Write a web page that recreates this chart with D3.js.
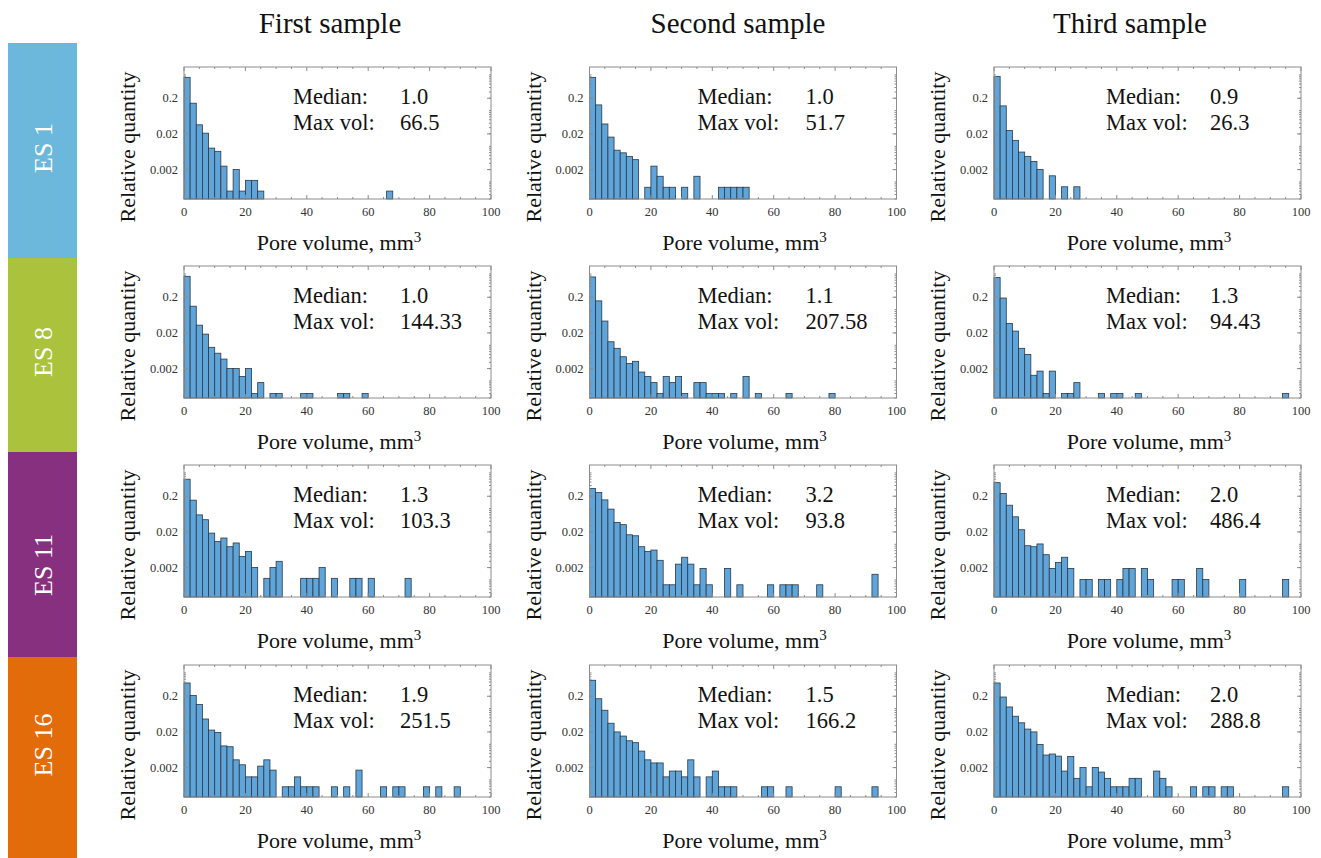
<!DOCTYPE html>
<html>
<head>
<meta charset="utf-8">
<script src="https://cdn.jsdelivr.net/npm/d3@7"></script>
<style>
  html, body { margin: 0; padding: 0; background: #ffffff; }
  svg { display: block; }
  text { font-family: "Liberation Serif", "Times New Roman", serif; }
</style>
</head>
<body>
<svg id="chart" width="1321" height="858" font-family="Liberation Serif, Times New Roman, serif"></svg>
<script>
// ---------------- DATA ----------------
const rowLabels = ["ES 1", "ES 8", "ES 11", "ES 16"];
const colTitles = ["First sample", "Second sample", "Third sample"];
const medians = [["1.0", "1.0", "0.9"], ["1.0", "1.1", "1.3"], ["1.3", "3.2", "2.0"], ["1.9", "1.5", "2.0"]];
const maxVols = [["66.5", "51.7", "26.3"], ["144.33", "207.58", "94.43"], ["103.3", "93.8", "486.4"], ["251.5", "166.2", "288.8"]];
const xTicks = [0, 20, 40, 60, 80, 100];
const yTicks = [0.2, 0.02, 0.002];
const yTickLabels = ["0.2", "0.02", "0.002"];
const binWidth = 2; // mm^3 per bin

// relative quantity per 2 mm^3 bin (bin i covers [2i, 2i+2))
const es1First = [0.77, 0.145, 0.036, 0.021, 0.008, 0.0065, 0.0025, 0.0005, 0.002, 0.0005,
  0.001, 0.001, 0.0005, 0, 0, 0, 0, 0, 0, 0,
  0, 0, 0, 0, 0, 0, 0, 0, 0, 0,
  0, 0, 0, 0.0005];
const es1Second = [0.77, 0.13, 0.038, 0.0163, 0.007, 0.0059, 0.0047, 0.0038, 0, 0.00064,
  0.0025, 0.0013, 0.00064, 0.00064, 0, 0.00064, 0, 0.0013, 0, 0,
  0, 0.00064, 0.00064, 0.00064, 0.00064, 0.00064];
const es1Third = [0.82, 0.122, 0.025, 0.0132, 0.0062, 0.0047, 0.0034, 0.002, 0, 0.00134,
  0, 0.00066, 0, 0.00066];
const es8First = [0.77, 0.112, 0.033, 0.0185, 0.0079, 0.0054, 0.0037, 0.002, 0.002, 0.0012,
  0.002, 0.0004, 0.00081, 0, 0.0004, 0.0004, 0, 0, 0, 0.0004,
  0.0004, 0, 0, 0, 0, 0.0004, 0.0004, 0, 0, 0.0004];
const es8Second = [0.74, 0.158, 0.043, 0.0113, 0.0074, 0.0043, 0.0028, 0.0032, 0.0016, 0.0012,
  0.00081, 0.0004, 0.0012, 0.00081, 0.0012, 0.0004, 0, 0.00081, 0.00081, 0.0004,
  0.0004, 0.0004, 0, 0.0004, 0, 0.0012, 0, 0.0004, 0, 0,
  0, 0, 0.0004, 0, 0, 0, 0, 0, 0, 0.0004];
const es8Third = [0.71, 0.19, 0.037, 0.0225, 0.0074, 0.005, 0.0013, 0.0017, 0.0004, 0.0017,
  0, 0.0004, 0.0004, 0.00081, 0, 0, 0, 0.0004, 0, 0.0004,
  0.0004, 0, 0, 0.0004, 0, 0, 0, 0, 0, 0,
  0, 0, 0, 0, 0, 0, 0, 0, 0, 0,
  0, 0, 0, 0, 0, 0, 0, 0.0004];
const es11First = [0.6, 0.155, 0.06, 0.044, 0.0185, 0.0107, 0.0135, 0.0077, 0.0098, 0.0041,
  0.0057, 0.002, 0, 0.001, 0.002, 0.003, 0, 0, 0, 0.001,
  0.001, 0.001, 0.002, 0, 0.001, 0, 0, 0.001, 0.001, 0,
  0.001, 0, 0, 0, 0, 0, 0.001];
const es11Second = [0.327, 0.254, 0.158, 0.087, 0.037, 0.032, 0.0166, 0.0156, 0.0077, 0.0057,
  0.0062, 0.0032, 0.00066, 0.00066, 0.0025, 0.0039, 0.0025, 0.00066, 0.0019, 0.00066,
  0, 0, 0.0019, 0, 0.00066, 0, 0, 0, 0, 0.00066,
  0, 0.00066, 0.00066, 0.00066, 0, 0, 0, 0.00066, 0, 0,
  0, 0, 0, 0, 0, 0, 0.0013];
const es11Third = [0.48, 0.24, 0.112, 0.053, 0.023, 0.0082, 0.0077, 0.0092, 0.0046, 0.0019,
  0.0028, 0.0039, 0.0019, 0, 0.00093, 0.00093, 0, 0.00093, 0.00093, 0,
  0.00093, 0.0019, 0.0019, 0, 0.0019, 0.00093, 0, 0, 0, 0.00093,
  0.00093, 0, 0, 0.0019, 0.00093, 0, 0, 0, 0, 0,
  0.00093, 0, 0, 0, 0, 0, 0, 0.00093];
const es16First = [0.47, 0.21, 0.117, 0.046, 0.0225, 0.0193, 0.0081, 0.0077, 0.0033, 0.0024,
  0.0011, 0.0011, 0.0022, 0.0033, 0.0017, 0, 0.00058, 0.00058, 0.0011, 0.00058,
  0.00058, 0.00058, 0, 0, 0.00058, 0, 0.00058, 0, 0.0017, 0,
  0, 0, 0.00058, 0, 0.00058, 0.00058, 0, 0, 0, 0.00058,
  0, 0.00058, 0, 0, 0.00058];
const es16Second = [0.56, 0.17, 0.081, 0.035, 0.02, 0.0153, 0.0113, 0.01, 0.0058, 0.0033,
  0.0027, 0.0027, 0.0011, 0.0016, 0.0016, 0.0011, 0.0033, 0.0011, 0, 0.0011,
  0.0016, 0.00058, 0.00058, 0.00058, 0, 0, 0, 0, 0.00058, 0.00058,
  0, 0, 0.00058, 0, 0, 0, 0, 0, 0, 0,
  0.00058, 0, 0, 0, 0, 0, 0.00058];
const es16Third = [0.47, 0.19, 0.10, 0.055, 0.036, 0.024, 0.020, 0.0089, 0.0045, 0.0048,
  0.0042, 0.0016, 0.0041, 0.001, 0.002, 0.00058, 0.002, 0.0015, 0.001, 0.00058,
  0.00058, 0.00058, 0.001, 0.001, 0, 0, 0.0016, 0.001, 0.00058, 0,
  0, 0, 0.00058, 0, 0.00058, 0.00058, 0, 0.00058, 0.00058, 0,
  0, 0, 0, 0, 0, 0, 0, 0.00058];

const series = [
  [es1First, es1Second, es1Third],
  [es8First, es8Second, es8Third],
  [es11First, es11Second, es11Third],
  [es16First, es16Second, es16Third]
];

// ---------------- LAYOUT ----------------
const FONT = "Liberation Serif, Times New Roman, serif";
const svg = d3.select("#chart");
const plotLeft = [184, 589.5, 994];
const plotTop = [67, 266, 465, 665];
const W = 307, H = 132;
const bandColors = ["#6cb8dc", "#aac23c", "#883080", "#e36c0a"];
const bandY = [43, 258, 452, 657, 858];
const bandLabelY = [148, 352, 565, 745];
const titleX = [330, 738, 1130];
const medianLabelDx = [109, 108, 112];

const x = d3.scaleLinear().domain([0, 100]).range([0, W]);
const y = d3.scaleLog().domain([0.0003, 1.5]).range([H, 0]);

// column titles
svg.selectAll("text.coltitle").data(colTitles).enter().append("text")
  .attr("class", "coltitle").attr("font-family", FONT)
  .attr("x", (d, i) => titleX[i]).attr("y", 33)
  .attr("text-anchor", "middle").attr("font-size", 29).attr("fill", "#111")
  .text(d => d);

// row colour bands
rowLabels.forEach((lab, r) => {
  svg.append("rect").attr("x", 8).attr("y", bandY[r]).attr("width", 69)
    .attr("height", bandY[r + 1] - bandY[r]).attr("fill", bandColors[r]);
  svg.append("text").attr("font-family", FONT)
    .attr("transform", `translate(43,${bandLabelY[r]}) rotate(-90)`)
    .attr("text-anchor", "middle").attr("dominant-baseline", "central")
    .attr("font-size", 26).attr("fill", "#ffffff").text(lab);
});

const minorY = [];
[0.0001, 0.001, 0.01, 0.1, 1].forEach(p => { for (let k = 2; k <= 9; k++) minorY.push(p * k); });
const minorYIn = minorY.filter(v => v > 0.0003 && v < 1.5);
const minorX = d3.range(0, 101, 5).filter(v => v % 20 !== 0);

for (let r = 0; r < 4; r++) {
  for (let c = 0; c < 3; c++) {
    const g = svg.append("g").attr("transform", `translate(${plotLeft[c]},${plotTop[r]})`)
      .attr("font-family", FONT);
    const data = series[r][c].map((v, i) => ({ x0: i * binWidth, v: v })).filter(d => d.v > 0);

    // bars
    g.selectAll("rect.bar").data(data).enter().append("rect")
      .attr("class", "bar")
      .attr("x", d => x(d.x0))
      .attr("width", x(binWidth) - x(0))
      .attr("y", d => y(d.v))
      .attr("height", d => H - y(d.v))
      .attr("fill", "#5fa5da").attr("stroke", "#2b3845").attr("stroke-width", 0.8);

    // frame
    g.append("rect").attr("x", 0).attr("y", 0).attr("width", W).attr("height", H)
      .attr("fill", "none").attr("stroke", "#8c8c8c").attr("stroke-width", 1);

    // ticks (inward)
    const tk = g.append("g").attr("stroke", "#8c8c8c").attr("stroke-width", 1);
    xTicks.forEach(t => {
      tk.append("line").attr("x1", x(t)).attr("x2", x(t)).attr("y1", H).attr("y2", H - 4);
      tk.append("line").attr("x1", x(t)).attr("x2", x(t)).attr("y1", 0).attr("y2", 4);
    });
    minorX.forEach(t => {
      tk.append("line").attr("x1", x(t)).attr("x2", x(t)).attr("y1", H).attr("y2", H - 2);
      tk.append("line").attr("x1", x(t)).attr("x2", x(t)).attr("y1", 0).attr("y2", 2);
    });
    yTicks.forEach(t => {
      tk.append("line").attr("x1", 0).attr("x2", 4).attr("y1", y(t)).attr("y2", y(t));
      tk.append("line").attr("x1", W).attr("x2", W - 4).attr("y1", y(t)).attr("y2", y(t));
    });
    minorYIn.forEach(t => {
      tk.append("line").attr("x1", 0).attr("x2", 2).attr("y1", y(t)).attr("y2", y(t));
      tk.append("line").attr("x1", W).attr("x2", W - 2).attr("y1", y(t)).attr("y2", y(t));
    });

    // tick labels
    g.selectAll("text.xt").data(xTicks).enter().append("text").attr("class", "xt")
      .attr("x", d => x(d)).attr("y", H + 17).attr("text-anchor", "middle")
      .attr("font-size", 12.5).attr("fill", "#333").text(d => d);
    g.selectAll("text.yt").data(yTicks).enter().append("text").attr("class", "yt")
      .attr("x", -6).attr("y", d => y(d)).attr("dominant-baseline", "central")
      .attr("text-anchor", "end").attr("font-size", 12.5).attr("fill", "#333")
      .text((d, i) => yTickLabels[i]);

    // axis labels
    const xl = g.append("text").attr("x", 155).attr("y", H + 51).attr("text-anchor", "middle")
      .attr("font-size", 22).attr("fill", "#111");
    xl.append("tspan").text("Pore volume, mm");
    xl.append("tspan").attr("font-size", 15).attr("dy", -8).text("3");
    g.append("text").attr("transform", `translate(-49,80) rotate(-90)`)
      .attr("text-anchor", "middle").attr("font-size", 22).attr("fill", "#111")
      .text("Relative quantity");

    // annotations
    g.append("text").attr("x", medianLabelDx[c]).attr("y", 37).attr("font-size", 22.5)
      .attr("fill", "#111").text("Median:");
    g.append("text").attr("x", 216).attr("y", 37).attr("font-size", 22.5)
      .attr("fill", "#111").text(medians[r][c]);
    g.append("text").attr("x", medianLabelDx[c]).attr("y", 63).attr("font-size", 22.5)
      .attr("fill", "#111").text("Max vol:");
    g.append("text").attr("x", 216).attr("y", 63).attr("font-size", 22.5)
      .attr("fill", "#111").text(maxVols[r][c]);
  }
}
</script>
</body>
</html>
